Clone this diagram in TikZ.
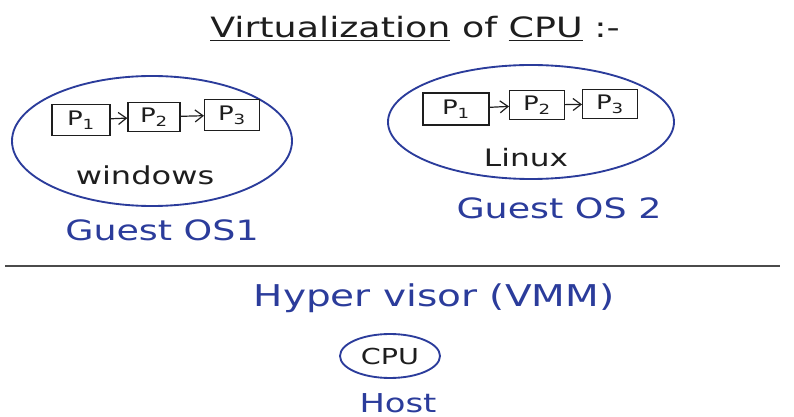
\documentclass[tikz,border=0pt]{standalone}
\usepackage{fontspec}
\setmainfont[FakeStretch=1.3]{DejaVu Sans}
\usetikzlibrary{arrows.meta,shapes.geometric}
\definecolor{pen}{HTML}{2B3C9B}
\definecolor{ink}{HTML}{1E1E1E}
\tikzset{
  osoval/.style={draw=pen, line width=1.4pt, ellipse, inner sep=0pt},
  pbox/.style={draw=ink, line width=1pt, inner sep=0pt, text=ink, font=\fontsize{15}{16}\selectfont},
  parrow/.style={draw=ink, line width=0.9pt, -{Straight Barb[length=6pt,width=9pt]}},
  bluetxt/.style={text=pen, font=\fontsize{21}{23}\selectfont},
  blacktxt/.style={text=ink, font=\fontsize{18.5}{20}\selectfont},
}
\begin{document}
\begin{tikzpicture}[x=0.75pt,y=-0.75pt]
\useasboundingbox (0,0) rectangle (794,417);
% title
\node[text=ink, font=\fontsize{21}{23}\selectfont, anchor=base west, inner sep=0pt] (title) at (210,38)
  {\underline{Virtualization} of \underline{CPU} :-};
% left guest
\node[osoval, minimum width=210pt, minimum height=97.5pt] (os1) at (152,141) {};
\node[pbox, minimum width=43.5pt, minimum height=23pt] (l1) at (81,120) {P\textsubscript{1}};
\node[pbox, minimum width=39pt, minimum height=22pt] (l2) at (154,117) {P\textsubscript{2}};
\node[pbox, minimum width=41pt, minimum height=23pt] (l3) at (232,115) {P\textsubscript{3}};
\draw[parrow] (l1) -- (l2);
\draw[parrow] (l2) -- (l3);
\node[blacktxt] (win) at (145,175) {windows};
\node[bluetxt] (g1) at (162,230) {Guest OS1};
% right guest
\node[osoval, minimum width=214.5pt, minimum height=85.5pt] (os2) at (531,122) {};
\node[pbox, minimum width=49.5pt, minimum height=24pt] (r1) at (456,109) {P\textsubscript{1}};
\node[pbox, minimum width=41pt, minimum height=22pt] (r2) at (537,105) {P\textsubscript{2}};
\node[pbox, minimum width=41pt, minimum height=22pt] (r3) at (610,104) {P\textsubscript{3}};
\draw[parrow] (r1) -- (r2);
\draw[parrow] (r2) -- (r3);
\node[blacktxt, font=\fontsize{18}{20}\selectfont] (lin) at (526,158) {Linux};
\node[bluetxt] (g2) at (559,208) {Guest OS 2};
% separator
\coordinate (s1) at (5,266);
\coordinate (s2) at (780,266);
\draw[draw=ink!80, line width=1pt] (s1) -- (s2);
% host
\node[bluetxt, font=\fontsize{22.5}{24}\selectfont] (hv) at (434,298) {Hyper visor (VMM)};
\node[osoval, minimum width=75pt, minimum height=33pt, text=ink, font=\fontsize{16.5}{18}\selectfont] (cpu) at (390,356) {CPU};
\node[bluetxt, font=\fontsize{19.5}{21}\selectfont] (host) at (398,403) {Host};
\end{tikzpicture}
\end{document}
